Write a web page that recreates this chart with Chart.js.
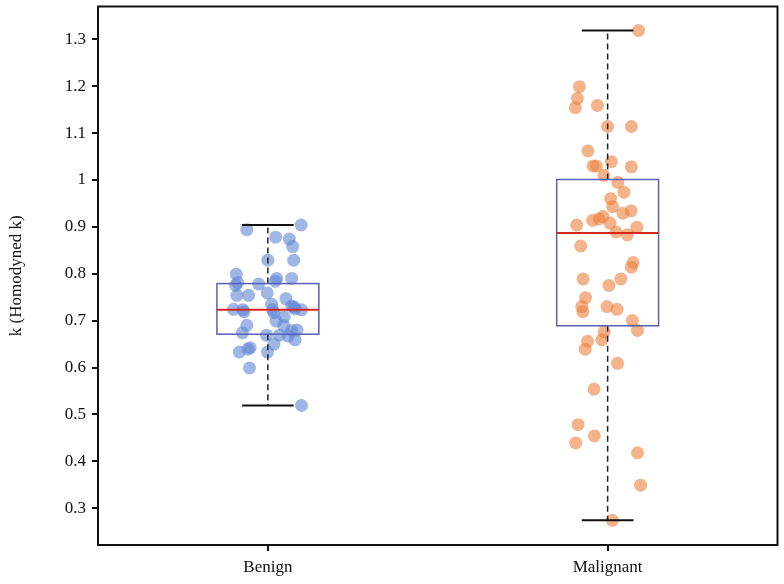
<!DOCTYPE html>
<html>
<head>
<meta charset="utf-8">
<script src="https://cdn.jsdelivr.net/npm/chart.js@4"></script>
<style>
  html, body { margin: 0; padding: 0; background: #fff; }
  #wrap { width: 784px; height: 584px; }
</style>
</head>
<body>
<div id="wrap"><canvas id="boxChart"></canvas></div>
<script>
  // data
  const categories = ['Benign', 'Malignant'];
  const yTicks = [0.3, 0.4, 0.5, 0.6, 0.7, 0.8, 0.9, 1, 1.1, 1.2, 1.3];

  // box stats per category
  const boxMin    = [0.519, 0.274];
  const boxQ1     = [0.671, 0.689];
  const boxMedian = [0.723, 0.887];
  const boxQ3     = [0.779, 1.001];
  const boxMax    = [0.904, 1.319];

  // benign points (value + horizontal jitter)
  const benignValues = [0.904, 0.894, 0.878, 0.874, 0.858, 0.829, 0.829, 0.799, 0.790, 0.784,
    0.790, 0.781, 0.775, 0.778, 0.754, 0.754, 0.759, 0.747, 0.735, 0.724,
    0.723, 0.719, 0.723, 0.717, 0.729, 0.723, 0.731, 0.725, 0.708, 0.699,
    0.690, 0.689, 0.680, 0.679, 0.674, 0.669, 0.669, 0.667, 0.659, 0.650,
    0.642, 0.639, 0.633, 0.633, 0.599, 0.519];
  const benignJitter = [0.098, -0.062, 0.023, 0.063, 0.073, 0.000, 0.076, -0.093, 0.026, 0.022,
    0.070, -0.089, -0.095, -0.027, -0.091, -0.057, -0.002, 0.053, 0.011, -0.101,
    -0.074, -0.070, 0.014, 0.018, 0.077, 0.099, 0.070, 0.080, 0.048, 0.024,
    -0.062, 0.047, 0.086, 0.070, -0.075, -0.004, 0.034, 0.060, 0.080, 0.018,
    -0.052, -0.059, -0.084, -0.001, -0.054, 0.099];

  // malignant points
  const malignantValues = [1.319, 1.199, 1.174, 1.154, 1.159, 1.114, 1.114, 1.062, 1.039, 1.030,
    1.030, 1.028, 1.010, 0.995, 0.974, 0.960, 0.943, 0.934, 0.929, 0.922,
    0.917, 0.914, 0.904, 0.908, 0.899, 0.889, 0.883, 0.859, 0.824, 0.814,
    0.789, 0.789, 0.775, 0.749, 0.730, 0.719, 0.730, 0.724, 0.700, 0.679,
    0.676, 0.659, 0.656, 0.639, 0.609, 0.554, 0.478, 0.454, 0.439, 0.418,
    0.349, 0.274];
  const malignantJitter = [0.091, -0.083, -0.089, -0.095, -0.030, 0.000, 0.070, -0.058, 0.011, -0.043,
    -0.033, 0.070, -0.011, 0.030, 0.048, 0.009, 0.015, 0.069, 0.045, -0.014,
    -0.025, -0.044, -0.091, 0.007, 0.086, 0.025, 0.058, -0.079, 0.075, 0.070,
    -0.072, 0.039, 0.004, -0.065, -0.076, -0.073, -0.002, 0.028, 0.073, 0.088,
    -0.010, -0.017, -0.059, -0.066, 0.029, -0.040, -0.087, -0.039, -0.094, 0.088,
    0.097, 0.014];

  const toPoints = (vals, jit, pos) => vals.map((v, i) => ({ x: pos + jit[i], y: v }));

  // box plot drawing on top of the points
  const boxPlugin = {
    id: 'boxPlugin',
    afterDatasetsDraw(chart) {
      const { ctx, scales: { x, y }, chartArea } = chart;
      ctx.save();
      categories.forEach((c, i) => {
        const pos = i + 1;
        const cx = x.getPixelForValue(pos);
        const left = x.getPixelForValue(pos - 0.15);
        const right = x.getPixelForValue(pos + 0.15);
        const capL = x.getPixelForValue(pos - 0.076);
        const capR = x.getPixelForValue(pos + 0.076);
        const yMin = y.getPixelForValue(boxMin[i]);
        const yQ1 = y.getPixelForValue(boxQ1[i]);
        const yMed = y.getPixelForValue(boxMedian[i]);
        const yQ3 = y.getPixelForValue(boxQ3[i]);
        const yMax = y.getPixelForValue(boxMax[i]);

        // whiskers
        ctx.strokeStyle = '#222';
        ctx.lineWidth = 1.5;
        ctx.setLineDash([6, 4]);
        ctx.beginPath();
        ctx.moveTo(cx, yQ3); ctx.lineTo(cx, yMax);
        ctx.moveTo(cx, yQ1); ctx.lineTo(cx, yMin);
        ctx.stroke();
        ctx.setLineDash([]);

        // caps
        ctx.lineWidth = 2;
        ctx.strokeStyle = '#111';
        ctx.beginPath();
        ctx.moveTo(capL, yMax); ctx.lineTo(capR, yMax);
        ctx.moveTo(capL, yMin); ctx.lineTo(capR, yMin);
        ctx.stroke();

        // box
        ctx.strokeStyle = '#5960b8';
        ctx.lineWidth = 1.5;
        ctx.strokeRect(left, yQ3, right - left, yQ1 - yQ3);

        // median
        ctx.strokeStyle = '#d8261c';
        ctx.lineWidth = 2;
        ctx.beginPath();
        ctx.moveTo(left, yMed); ctx.lineTo(right, yMed);
        ctx.stroke();
      });

      // frame
      ctx.strokeStyle = '#111';
      ctx.lineWidth = 2;
      ctx.strokeRect(chartArea.left, chartArea.top, chartArea.right - chartArea.left, chartArea.bottom - chartArea.top);
      ctx.restore();
    }
  };

  const serif = "'Liberation Serif', 'DejaVu Serif', serif";

  new Chart(document.getElementById('boxChart'), {
    type: 'scatter',
    data: {
      datasets: [
        {
          label: categories[0],
          data: toPoints(benignValues, benignJitter, 1),
          backgroundColor: 'rgba(96,134,212,0.6)',
          borderWidth: 0,
          pointRadius: 6.5,
          pointHoverRadius: 6.5
        },
        {
          label: categories[1],
          data: toPoints(malignantValues, malignantJitter, 2),
          backgroundColor: 'rgba(236,128,62,0.6)',
          borderWidth: 0,
          pointRadius: 6.5,
          pointHoverRadius: 6.5
        }
      ]
    },
    options: {
      responsive: true,
      maintainAspectRatio: false,
      animation: false,
      layout: { padding: { top: 4, right: 2, left: 0, bottom: 0 } },
      plugins: {
        legend: { display: false },
        tooltip: { enabled: false }
      },
      scales: {
        x: {
          type: 'linear',
          min: 0.5,
          max: 2.5,
          afterBuildTicks: (s) => { s.ticks = categories.map((c, i) => ({ value: i + 1 })); },
          afterFit: (s) => { s.height = 39; s.paddingLeft = 0; s.paddingRight = 0; },
          ticks: {
            color: '#111',
            font: { family: serif, size: 17 },
            padding: 6,
            callback: (v) => categories[v - 1]
          },
          grid: { display: true, drawOnChartArea: false, color: '#111', lineWidth: 2, tickLength: 6 },
          border: { display: false }
        },
        y: {
          min: 0.2214,
          max: 1.37,
          afterBuildTicks: (s) => { s.ticks = yTicks.map(v => ({ value: v })); },
          afterFit: (s) => { s.width = 98; s.paddingTop = 0; s.paddingBottom = 0; },
          ticks: {
            color: '#111',
            font: { family: serif, size: 17 },
            padding: 6,
            callback: (v) => String(v)
          },
          title: {
            display: true,
            text: 'k (Homodyned k)',
            color: '#111',
            font: { family: serif, size: 17 },
            padding: { top: 6, bottom: 0 }
          },
          grid: { display: true, drawOnChartArea: false, color: '#111', lineWidth: 2, tickLength: 6 },
          border: { display: false }
        }
      }
    },
    plugins: [boxPlugin]
  });
</script>
</body>
</html>
